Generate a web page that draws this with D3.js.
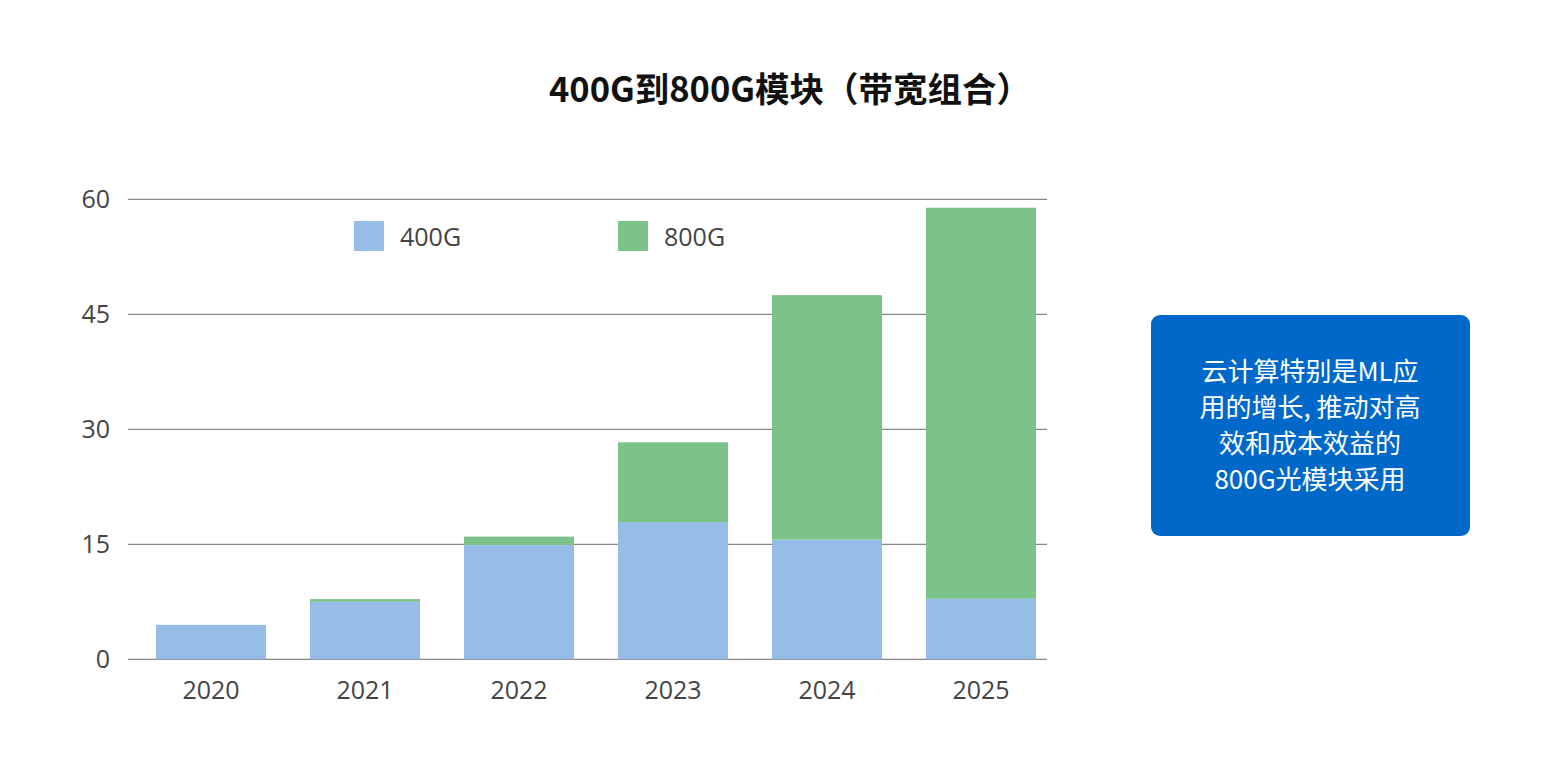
<!DOCTYPE html>
<html>
<head>
<meta charset="utf-8">
<script src="https://cdn.jsdelivr.net/npm/d3@7"></script>
<style>
  html, body { margin: 0; padding: 0; background: #fff; }
  svg { display: block; font-family: "Noto Sans CJK SC", "Noto Sans", sans-serif; }
</style>
</head>
<body>
<svg id="chart" width="1560" height="769"></svg>
<script>
const years = ["2020", "2021", "2022", "2023", "2024", "2025"];
const v400 = [4.5, 7.5, 14.9, 17.9, 15.6, 7.9];
const v800 = [0, 0.35, 1.1, 10.4, 31.9, 51.0];
const yTicks = [0, 15, 30, 45, 60];
const seriesNames = ["400G", "800G"];
const seriesColors = ["#98bce8", "#7bc389"];
const titleText = "400G到800G模块（带宽组合）";
const noteLines = ["云计算特别是ML应", "用的增长, 推动对高", "效和成本效益的", "800G光模块采用"];

const svg = d3.select("#chart");

const rows = years.map((y, i) => ({ year: y, "400G": v400[i], "800G": v800[i] }));
const stacked = d3.stack().keys(seriesNames)(rows);

const x = d3.scaleBand()
    .domain(years)
    .range([134, 1058])
    .paddingInner(0.2857)
    .paddingOuter(0.1428);

const y = d3.scaleLinear()
    .domain([0, 60])
    .range([659.3, 199.3]);

const latin = "'Open Sans', 'Noto Sans', sans-serif";

// title
svg.append("text")
    .attr("x", 790)
    .attr("y", 102)
    .attr("text-anchor", "middle")
    .attr("font-size", 34.5)
    .attr("font-weight", "bold")
    .attr("fill", "#111")
    .text(titleText);

// grid lines
svg.append("g")
    .selectAll("line")
    .data(yTicks)
    .enter()
    .append("line")
    .attr("x1", 128)
    .attr("x2", 1047)
    .attr("y1", d => y(d))
    .attr("y2", d => y(d))
    .attr("stroke", "#888")
    .attr("stroke-width", 1.2);

// y axis labels
const yAxis = d3.axisLeft(y).tickValues(yTicks).tickSize(0).tickPadding(0);
svg.append("g")
    .attr("transform", "translate(110,0)")
    .call(yAxis)
    .call(g => g.select(".domain").remove())
    .call(g => g.selectAll("text")
        .attr("font-size", 25)
        .attr("fill", "#444")
        .attr("font-family", latin));

// bars
svg.append("g")
    .selectAll("g")
    .data(stacked)
    .enter()
    .append("g")
    .attr("fill", (d, i) => seriesColors[i])
    .selectAll("rect")
    .data(d => d)
    .enter()
    .append("rect")
    .attr("x", d => x(d.data.year))
    .attr("width", x.bandwidth())
    .attr("y", d => y(d[1]))
    .attr("height", d => y(d[0]) - y(d[1]));

// x axis labels
const xAxis = d3.axisBottom(x).tickSize(0).tickPadding(0);
svg.append("g")
    .attr("transform", "translate(0,681)")
    .call(xAxis)
    .call(g => g.select(".domain").remove())
    .call(g => g.selectAll("text")
        .attr("font-size", 25)
        .attr("fill", "#444")
        .attr("font-family", latin));

// legend
const legendX = [354, 618];
const legend = svg.append("g")
    .selectAll("g")
    .data(seriesNames)
    .enter()
    .append("g")
    .attr("transform", (d, i) => `translate(${legendX[i]},221)`);
legend.append("rect")
    .attr("width", 30)
    .attr("height", 30)
    .attr("fill", (d, i) => seriesColors[i]);
legend.append("text")
    .attr("x", 46)
    .attr("y", 16)
    .attr("dy", "0.35em")
    .attr("font-size", 25)
    .attr("fill", "#444")
    .attr("font-family", latin)
    .text(d => d);

// note box
svg.append("rect")
    .attr("x", 1151)
    .attr("y", 315)
    .attr("width", 319)
    .attr("height", 221)
    .attr("rx", 9)
    .attr("fill", "#0068c9");

svg.append("g")
    .selectAll("text")
    .data(noteLines)
    .enter()
    .append("text")
    .attr("x", 1310)
    .attr("y", (d, i) => 372 + i * 36)
    .attr("dy", "0.35em")
    .attr("text-anchor", "middle")
    .attr("font-size", 26)
    .attr("fill", "#fff")
    .text(d => d);
</script>
</body>
</html>
